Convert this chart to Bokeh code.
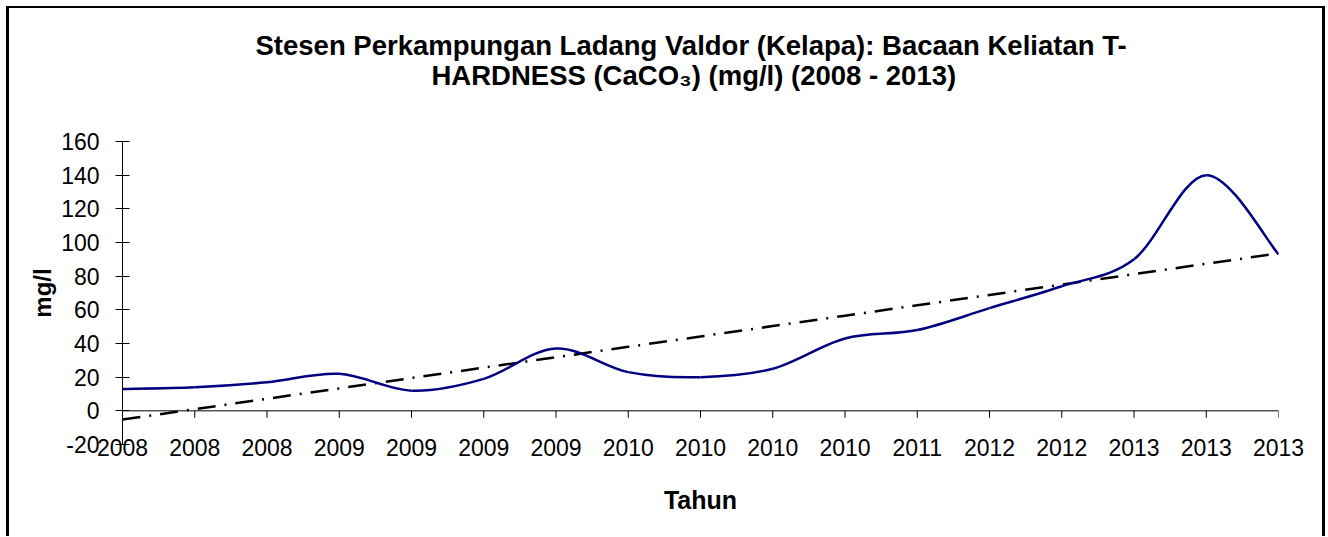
import numpy as np
from bokeh.plotting import figure
from bokeh.models import Range1d, FixedTicker, Span, Title
from bokeh.embed import file_html
from bokeh.resources import INLINE

# ---- data ----
x_labels = ["2008", "2008", "2008", "2009", "2009", "2009", "2009", "2010", "2010",
            "2010", "2010", "2011", "2012", "2012", "2013", "2013", "2013"]
hardness = [13, 14, 17, 22, 12, 19, 37, 23, 20, 25, 43, 48, 61, 74, 90, 140, 93]
y_ticks = [-20, 0, 20, 40, 60, 80, 100, 120, 140, 160]
title_line1 = "Stesen Perkampungan Ladang Valdor (Kelapa): Bacaan Keliatan T-"
title_line2 = "HARDNESS (CaCO\u2083) (mg/l) (2008 - 2013)"
x_title = "Tahun"
y_title = "mg/l"

FONT = "Liberation Sans"

xs = np.arange(len(hardness), dtype=float)
ys = np.array(hardness, dtype=float)

p = figure(width=1319, height=530,
           x_range=Range1d(0, len(hardness) - 1), y_range=Range1d(y_ticks[0], y_ticks[-1]),
           output_backend="svg", toolbar_location=None,
           min_border_left=113, min_border_right=50, min_border_top=133, min_border_bottom=94)
p.outline_line_color = None
p.grid.visible = False
p.background_fill_color = "white"
p.border_fill_color = "white"
p.styles = {"border-left": "3px solid black", "border-top": "2px solid black",
            "border-right": "3px solid black", "margin-left": "6px", "margin-top": "6px"}

def make_title(txt, standoff, offset=0, align="left"):
    return Title(text=txt, align=align, offset=offset, text_font=FONT,
                 text_font_size="27.5px", text_font_style="bold", text_color="black",
                 standoff=standoff)

# stacked from the plot outward: spacer, second line, first line
p.add_layout(make_title(" ", 19), "above")
p.add_layout(make_title(title_line2, -2.7, offset=309), "above")
p.add_layout(make_title(title_line1, -2.7, offset=133), "above")

# y axis
ya = p.yaxis[0]
ya.ticker = FixedTicker(ticks=y_ticks)
ya.major_label_overrides = {v: str(v) for v in y_ticks}
ya.minor_tick_line_color = None
ya.major_tick_in = 7
ya.major_tick_out = 7
ya.axis_line_color = "black"
ya.major_tick_line_color = "black"
ya.major_label_text_font = FONT
ya.major_label_text_font_size = "23px"
ya.major_label_text_color = "black"
ya.major_label_standoff = 16
ya.axis_label = y_title
ya.axis_label_text_font = FONT
ya.axis_label_text_font_size = "24px"
ya.axis_label_text_font_style = "bold"
ya.axis_label_text_color = "black"
ya.axis_label_standoff = 2

# x axis: labels at the bottom, axis line drawn at y = 0
xa = p.xaxis[0]
xa.ticker = FixedTicker(ticks=list(range(len(x_labels))))
xa.major_label_overrides = {i: lbl for i, lbl in enumerate(x_labels)}
xa.axis_line_color = None
xa.major_tick_line_color = None
xa.minor_tick_line_color = None
xa.major_label_text_font = FONT
xa.major_label_text_font_size = "23px"
xa.major_label_text_color = "black"
xa.major_label_standoff = -12
xa.axis_label = x_title
xa.axis_label_text_font = FONT
xa.axis_label_text_font_size = "25px"
xa.axis_label_text_font_style = "bold"
xa.axis_label_text_color = "black"
xa.axis_label_standoff = 27

p.add_layout(Span(location=0, dimension="width", line_color="black", line_width=1))
p.ray(x=xs, y=np.zeros_like(xs), length=7, length_units="screen", angle=-np.pi / 2,
      line_color="black", line_width=1)

# trend line (least squares over the series)
slope, intercept = np.polyfit(xs, ys, 1)
p.line(xs, slope * xs + intercept, line_color="black", line_width=2.5,
       line_dash="18 9 2 9")

# smoothed series (Bezier segments, Excel-like smoothing)
n = len(xs)
xp = np.concatenate([[xs[0]], xs, [xs[-1]]])
yp = np.concatenate([[ys[0]], ys, [ys[-1]]])
x0 = xs[:-1]; y0 = ys[:-1]; x1 = xs[1:]; y1 = ys[1:]
cx0 = x0 + (xp[2:n + 1] - xp[0:n - 1]) / 6.0
cy0 = y0 + (yp[2:n + 1] - yp[0:n - 1]) / 6.0
cx1 = x1 - (xp[3:n + 2] - xp[1:n]) / 6.0
cy1 = y1 - (yp[3:n + 2] - yp[1:n]) / 6.0
p.bezier(x0=x0, y0=y0, x1=x1, y1=y1, cx0=cx0, cy0=cy0, cx1=cx1, cy1=cy1,
         line_color="#000080", line_width=2.5)

open("out.html", "w").write(file_html(p, INLINE))
